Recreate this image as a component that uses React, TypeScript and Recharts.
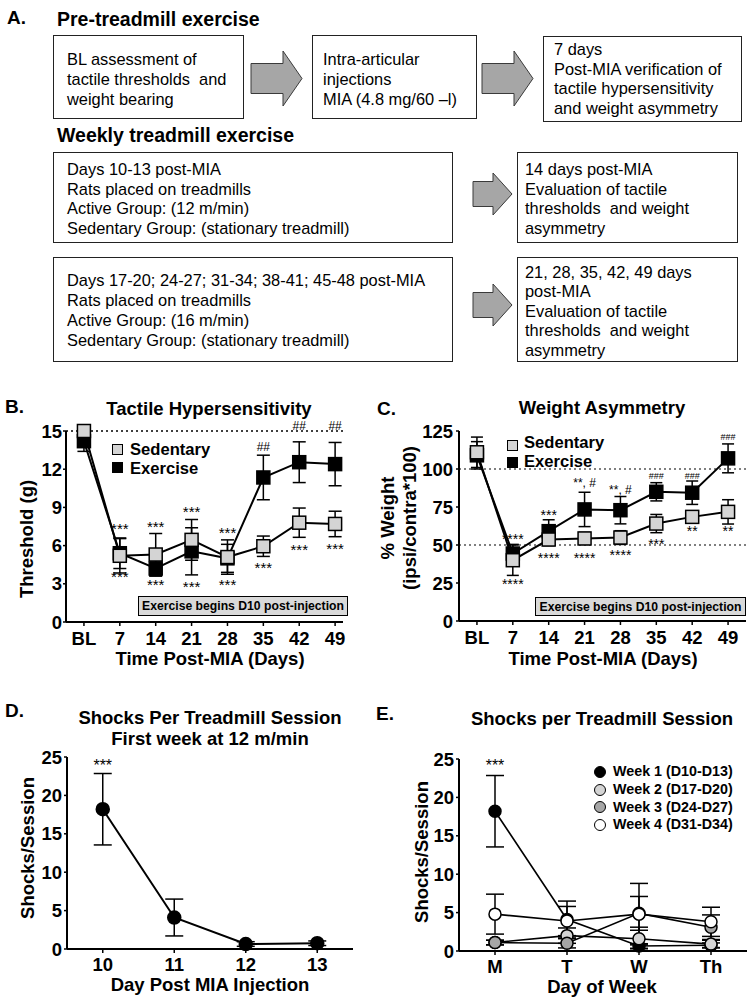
import React from 'react';
import { ComposedChart, Line, XAxis, YAxis, ErrorBar, ReferenceLine, ReferenceDot } from 'recharts';

const FONT = '"Liberation Sans", Arial, Helvetica, sans-serif';

// ---------------- data ----------------
const timeLabels = ['BL', '7', '14', '21', '28', '35', '42', '49'];
const sedThreshold = [15.0, 5.2, 5.3, 6.45, 5.1, 5.95, 7.8, 7.7];
const sedThresholdErr = [0, 1.35, 1.65, 1.6, 1.35, 0.8, 1.15, 1.0];
const exThreshold = [14.2, 5.4, 4.2, 5.55, 5.0, 11.35, 12.55, 12.4];
const exThresholdErr = [0.8, 1.2, 0.6, 1.85, 1.1, 1.75, 1.6, 1.7];
const thresholdTicks = [0, 3, 6, 9, 12, 15];

const sedWeight = [111, 40, 53.6, 54.3, 54.9, 64.1, 68.5, 71.8];
const sedWeightErr = [10, 10, 4, 4, 4.5, 6, 3, 8];
const exWeight = [109, 44.4, 59.1, 73.4, 72.9, 85, 84.4, 107];
const exWeightErr = [9, 6, 7.5, 11.3, 9, 6, 7.7, 9.5];
const weightTicks = [0, 25, 50, 75, 100, 125];

const sessionDays = [10, 11, 12, 13];
const weekDays = ['M', 'T', 'W', 'Th'];
const week1Shocks = [18.2, 4.1, 0.65, 0.75];
const week1Err = [4.65, 2.4, 0.3, 0.3];
const week2Shocks = [1.1, 2.0, 1.6, 0.9];
const week2Err = [0.3, 1.0, 1.5, 0.5];
const week3Shocks = [1.1, 1.0, 4.9, 3.1];
const week3Err = [0.3, 0.6, 2.2, 1.6];
const week4Shocks = [4.8, 3.9, 4.8, 3.8];
const week4Err = [2.6, 1.9, 4.0, 1.9];
const shockTicks = [0, 5, 10, 15, 20, 25];

const weekNames = ['Week 1 (D10-D13)', 'Week 2 (D17-D20)', 'Week 3 (D24-D27)', 'Week 4 (D31-D34)'];

const sigThreshold = [
  { x: 1, y: 7.6, t: '***' }, { x: 1, y: 3.85, t: '***' },
  { x: 2, y: 7.75, t: '***' }, { x: 2, y: 3.2, t: '***' },
  { x: 3, y: 8.95, t: '***' }, { x: 3, y: 3.05, t: '***' },
  { x: 4, y: 7.25, t: '***' }, { x: 4, y: 3.2, t: '***' },
  { x: 5, y: 13.8, t: '##' }, { x: 5, y: 4.5, t: '***' },
  { x: 6, y: 15.45, t: '##' }, { x: 6, y: 5.95, t: '***' },
  { x: 7, y: 15.45, t: '##' }, { x: 7, y: 6.05, t: '***' },
];
const sigWeight = [
  { x: 1, y: 55.8, t: '****' }, { x: 1, y: 26.4, t: '****' },
  { x: 2, y: 71.8, t: '***' }, { x: 2, y: 43.3, t: '****' },
  { x: 3, y: 91.6, t: '**, #' }, { x: 3, y: 43.3, t: '****' },
  { x: 4, y: 87.2, t: '**, #' }, { x: 4, y: 45.5, t: '****' },
  { x: 5, y: 95.3, t: '###' }, { x: 5, y: 52.7, t: '***' },
  { x: 6, y: 95.3, t: '###' }, { x: 6, y: 60.9, t: '**' },
  { x: 7, y: 121.3, t: '###' }, { x: 7, y: 60.9, t: '**' },
];
const sigSessionDay = [{ x: 10, y: 24.4, t: '***' }];
const sigWeekDay = [{ x: 0, y: 24.6, t: '***' }];

// ---------------- styles ----------------
const tickStyle = { fontSize: 18.5, fontWeight: 700, fill: '#000', fontFamily: FONT };
const axisLine = { stroke: '#000', strokeWidth: 2 };
const tickLine = { stroke: '#000', strokeWidth: 1.5 };
const SED_FILL = '#d4d4d4';
const BOX_FONT = 16.4;
const HEAD_FONT = 19.5;
const LEG_FONT = 16.6;
const LH = 0.8;

const squareDot = (fill: string) => (p: any) => {
  if (p.cx == null || p.cy == null) return <g key={`n${p.index}`} />;
  return (
    <rect key={`s${p.index}`} x={p.cx - 6.5} y={p.cy - 6.5} width={13} height={13}
      fill={fill} stroke="#000" strokeWidth={1.5} />
  );
};
const circleDot = (fill: string, r: number) => (p: any) => {
  if (p.cx == null || p.cy == null) return <g key={`n${p.index}`} />;
  return <circle key={`c${p.index}`} cx={p.cx} cy={p.cy} r={r} fill={fill} stroke="#000" strokeWidth={1.5} />;
};

const sigShape = (t: string, size: number) => (p: any) => {
  const stars = /^\*+$/.test(t);
  const hashes = /^#+$/.test(t);
  const dy = stars ? '0.57em' : hashes ? '0.36em' : '0.45em';
  return (
    <text x={p.cx} y={p.cy} dy={dy} textAnchor="middle" fontSize={size} fontFamily={FONT}
      style={{ fill: '#000' }}>{t}</text>
  );
};

// ---------------- text helpers ----------------
function Txt({ x, y, size, bold, anchor = 'start', children }: any) {
  const tx = anchor === 'middle' ? '-50%' : anchor === 'end' ? '-100%' : '0';
  const top = y - ((LH - 1.117) / 2 + 0.905) * size;
  return (
    <div style={{
      position: 'absolute', left: x, top, fontSize: size, lineHeight: `${LH * size}px`, height: LH * size,
      fontWeight: bold ? 700 : 400, whiteSpace: 'pre', transform: `translateX(${tx})`, fontFamily: FONT, color: '#000',
    }}>{children}</div>
  );
}
function VTxt({ cx, cy, size, children }: any) {
  return (
    <div style={{
      position: 'absolute', left: cx, top: cy, fontSize: size, lineHeight: `${size}px`, fontWeight: 700,
      whiteSpace: 'pre', transform: 'translate(-50%, -50%) rotate(-90deg)', fontFamily: FONT, color: '#000',
    }}>{children}</div>
  );
}
function Box({ x, y, w, h }: any) {
  return <div style={{ position: 'absolute', left: x, top: y, width: w, height: h, border: '1.3px solid #222', boxSizing: 'border-box' }} />;
}
function Arrow({ x, cy, len, bodyH, headH, headLen }: any) {
  const b0 = headH / 2 - bodyH / 2;
  const b1 = headH / 2 + bodyH / 2;
  const hx = len - headLen;
  const pts = [[0, b0], [hx, b0], [hx, 0], [len, headH / 2], [hx, headH], [hx, b1], [0, b1]]
    .map(([a, b]) => `${a + 1},${b + 1}`).join(' ');
  return (
    <svg style={{ position: 'absolute', left: x - 1, top: cy - headH / 2 - 1 }} width={len + 2} height={headH + 2}>
      <polygon points={pts} fill="#a6a6a6" stroke="#3a3a3a" strokeWidth={1} />
    </svg>
  );
}
function Lines({ x, bases, lines }: any) {
  return <>{lines.map((l: string, k: number) => <Txt key={k} x={x} y={bases[k]} size={BOX_FONT}>{l}</Txt>)}</>;
}
function AnnotBox({ x, y, w, h }: any) {
  return (
    <div style={{
      position: 'absolute', left: x, top: y, width: w, height: h, boxSizing: 'border-box', background: '#d9d9d9',
      border: '1.5px solid #000', fontSize: 12.2, fontWeight: 700, fontFamily: FONT, display: 'flex',
      alignItems: 'center', justifyContent: 'center', whiteSpace: 'nowrap',
    }}>Exercise begins D10 post-injection</div>
  );
}

// ---------------- panel A ----------------
function PanelA() {
  return (
    <>
      <Txt x={7} y={24} size={19} bold>A.</Txt>
      <Txt x={57} y={27} size={HEAD_FONT} bold>Pre-treadmill exercise</Txt>
      <Box x={53} y={35} w={191} h={84} />
      <Lines x={67} bases={[65, 85, 105]} lines={['BL assessment of', 'tactile thresholds  and', 'weight bearing']} />
      <Arrow x={251} cy={78} len={51} bodyH={30} headH={55} headLen={19} />
      <Box x={312} y={35} w={165} h={84} />
      <Lines x={323} bases={[65, 85, 105]} lines={['Intra-articular', 'injections', 'MIA (4.8 mg/60 \u2013l)']} />
      <Arrow x={482} cy={78} len={51} bodyH={30} headH={55} headLen={19} />
      <Box x={543} y={36} w={199} h={86} />
      <Lines x={554} bases={[55, 75, 94.5, 114]} lines={['7 days', 'Post-MIA verification of', 'tactile hypersensitivity', 'and weight asymmetry']} />

      <Txt x={57} y={143} size={HEAD_FONT} bold>Weekly treadmill exercise</Txt>
      <Box x={53} y={152} w={400} h={91} />
      <Lines x={67} bases={[175.5, 195, 214.5, 234]} lines={['Days 10-13 post-MIA', 'Rats placed on treadmills', 'Active Group: (12 m/min)', 'Sedentary Group: (stationary treadmill)']} />
      <Arrow x={473} cy={194} len={39} bodyH={25} headH={42} headLen={19} />
      <Box x={517} y={152} w={221} h={91} />
      <Lines x={525} bases={[175.5, 195, 214.5, 234]} lines={['14 days post-MIA', 'Evaluation of tactile', 'thresholds  and weight', 'asymmetry']} />

      <Box x={53} y={257} w={400} h={105} />
      <Lines x={67} bases={[286, 306, 326, 346]} lines={['Days 17-20; 24-27; 31-34; 38-41; 45-48 post-MIA', 'Rats placed on treadmills', 'Active Group: (16 m/min)', 'Sedentary Group: (stationary treadmill)']} />
      <Arrow x={473} cy={305} len={39} bodyH={25} headH={42} headLen={19} />
      <Box x={517} y={257} w={221} h={105} />
      <Lines x={525} bases={[278, 297.5, 317, 336.5, 356]} lines={['21, 28, 35, 42, 49 days', 'post-MIA', 'Evaluation of tactile', 'thresholds  and weight', 'asymmetry']} />
    </>
  );
}

// ---------------- panel B ----------------
function ThresholdChart() {
  const data = timeLabels.map((_, i) => ({ i, sed: sedThreshold[i], sedErr: sedThresholdErr[i], ex: exThreshold[i], exErr: exThresholdErr[i] }));
  return (
    <div style={{ position: 'absolute', left: 0, top: 380 }}>
      <ComposedChart width={377} height={300} data={data} margin={{ top: 51, right: 34, bottom: 28, left: 26 }}>
        <XAxis type="number" dataKey="i" domain={[-0.5, 7.22]} ticks={timeLabels.map((_, i) => i)} interval={0}
          tickFormatter={(v: number) => timeLabels[v]} height={30} tick={tickStyle} axisLine={axisLine} tickLine={tickLine}
          tickSize={4} tickMargin={6} />
        <YAxis type="number" domain={[0, 15]} ticks={thresholdTicks} interval={0} width={40} tick={tickStyle}
          axisLine={axisLine} tickLine={tickLine} tickSize={3} tickMargin={1} />
        <ReferenceLine y={15} stroke="#000" strokeWidth={1.3} strokeDasharray="2 3" />
        <Line type="linear" dataKey="ex" stroke="#000" strokeWidth={2} dot={squareDot('#000')} activeDot={false} isAnimationActive={false}>
          <ErrorBar dataKey="exErr" direction="y" width={6.5} stroke="#000" strokeWidth={1.5} />
        </Line>
        <Line type="linear" dataKey="sed" stroke="#000" strokeWidth={2} dot={squareDot(SED_FILL)} activeDot={false} isAnimationActive={false}>
          <ErrorBar dataKey="sedErr" direction="y" width={6.5} stroke="#000" strokeWidth={1.5} />
        </Line>
        {sigThreshold.map((a, k) => (
          <ReferenceDot key={k} x={a.x} y={a.y} r={0} ifOverflow="visible" shape={sigShape(a.t, a.t.includes('#') ? 12 : 15)} />
        ))}
      </ComposedChart>
    </div>
  );
}

// ---------------- panel C ----------------
function WeightChart() {
  const data = timeLabels.map((_, i) => ({ i, sed: sedWeight[i], sedErr: sedWeightErr[i], ex: exWeight[i], exErr: exWeightErr[i] }));
  const sizeFor = (t: string) => (/^#+$/.test(t) ? 9 : t.includes('#') ? 12 : 14);
  return (
    <div style={{ position: 'absolute', left: 377, top: 380 }}>
      <ComposedChart width={377} height={300} data={data} margin={{ top: 51, right: 8, bottom: 29, left: 42 }}>
        <XAxis type="number" dataKey="i" domain={[-0.5, 7.5]} ticks={timeLabels.map((_, i) => i)} interval={0}
          tickFormatter={(v: number) => timeLabels[v]} height={30} tick={tickStyle} axisLine={axisLine} tickLine={tickLine}
          tickSize={4} tickMargin={6} />
        <YAxis type="number" domain={[0, 125]} ticks={weightTicks} interval={0} width={40} tick={tickStyle}
          axisLine={axisLine} tickLine={tickLine} tickSize={3} tickMargin={3} />
        <ReferenceLine y={100} stroke="#000" strokeWidth={1.2} strokeDasharray="2 3" />
        <ReferenceLine y={50} stroke="#000" strokeWidth={1.2} strokeDasharray="2 3" />
        <Line type="linear" dataKey="ex" stroke="#000" strokeWidth={2} dot={squareDot('#000')} activeDot={false} isAnimationActive={false}>
          <ErrorBar dataKey="exErr" direction="y" width={6} stroke="#000" strokeWidth={1.5} />
        </Line>
        <Line type="linear" dataKey="sed" stroke="#000" strokeWidth={2} dot={squareDot(SED_FILL)} activeDot={false} isAnimationActive={false}>
          <ErrorBar dataKey="sedErr" direction="y" width={6} stroke="#000" strokeWidth={1.5} />
        </Line>
        {sigWeight.map((a, k) => (
          <ReferenceDot key={k} x={a.x} y={a.y} r={0} ifOverflow="visible" shape={sigShape(a.t, sizeFor(a.t))} />
        ))}
      </ComposedChart>
    </div>
  );
}

// ---------------- panel D ----------------
function ShockDayChart() {
  const data = sessionDays.map((d, i) => ({ day: d, w1: week1Shocks[i], w1Err: week1Err[i] }));
  return (
    <div style={{ position: 'absolute', left: 0, top: 680 }}>
      <ComposedChart width={377} height={324} data={data} margin={{ top: 77, right: 24, bottom: 25, left: 27 }}>
        <XAxis type="number" dataKey="day" domain={[9.5, 13.5]} ticks={sessionDays} interval={0} height={30}
          tick={tickStyle} axisLine={axisLine} tickLine={tickLine} tickSize={4} tickMargin={5} />
        <YAxis type="number" domain={[0, 25]} ticks={shockTicks} interval={0} width={40} tick={tickStyle}
          axisLine={axisLine} tickLine={tickLine} tickSize={3} tickMargin={2} />
        <Line type="linear" dataKey="w1" stroke="#000" strokeWidth={2} dot={circleDot('#000', 6.5)} activeDot={false} isAnimationActive={false}>
          <ErrorBar dataKey="w1Err" direction="y" width={9} stroke="#000" strokeWidth={1.5} />
        </Line>
        {sigSessionDay.map((a, k) => (
          <ReferenceDot key={k} x={a.x} y={a.y} r={0} ifOverflow="visible" shape={sigShape(a.t, 16)} />
        ))}
      </ComposedChart>
    </div>
  );
}

// ---------------- panel E ----------------
const weekFills = ['#000', '#d4d4d4', '#a6a6a6', '#fff'];
function ShockWeekChart() {
  const data = weekDays.map((_, i) => ({
    i,
    w1: week1Shocks[i], w1Err: week1Err[i],
    w2: week2Shocks[i], w2Err: week2Err[i],
    w3: week3Shocks[i], w3Err: week3Err[i],
    w4: week4Shocks[i], w4Err: week4Err[i],
  }));
  return (
    <div style={{ position: 'absolute', left: 377, top: 680 }}>
      <ComposedChart width={377} height={324} data={data} margin={{ top: 79, right: 7, bottom: 23, left: 42 }}>
        <XAxis type="number" dataKey="i" domain={[-0.5, 3.5]} ticks={weekDays.map((_, i) => i)} interval={0}
          tickFormatter={(v: number) => weekDays[v]} height={30} tick={tickStyle} axisLine={axisLine} tickLine={tickLine}
          tickSize={4} tickMargin={5} />
        <YAxis type="number" domain={[0, 25]} ticks={shockTicks} interval={0} width={40} tick={tickStyle}
          axisLine={axisLine} tickLine={tickLine} tickSize={3} tickMargin={2} />
        {['w1', 'w2', 'w3', 'w4'].map((k, n) => (
          <Line key={k} type="linear" dataKey={k} stroke="#000" strokeWidth={1.6} dot={circleDot(weekFills[n], 6)}
            activeDot={false} isAnimationActive={false}>
            <ErrorBar dataKey={`${k}Err`} direction="y" width={9} stroke="#000" strokeWidth={1.5} />
          </Line>
        ))}
        {sigWeekDay.map((a, k) => (
          <ReferenceDot key={k} x={a.x} y={a.y} r={0} ifOverflow="visible" shape={sigShape(a.t, 16)} />
        ))}
      </ComposedChart>
    </div>
  );
}

// ---------------- legends ----------------
function SquareLegend({ x, tx, rows }: any) {
  return (
    <>
      {rows.map((r: any, k: number) => (
        <React.Fragment key={k}>
          <div style={{ position: 'absolute', left: x - 5.5, top: r.cy - 5.5, width: 11, height: 11, boxSizing: 'border-box', background: r.fill, border: '1.3px solid #000' }} />
          <Txt x={tx} y={r.base} size={LEG_FONT} bold>{r.label}</Txt>
        </React.Fragment>
      ))}
    </>
  );
}

export default function App() {
  return (
    <div style={{ position: 'absolute', left: 0, top: 0, width: 754, height: 1004, background: '#fff', overflow: 'hidden', fontFamily: FONT }}>
      <PanelA />
      <ThresholdChart />
      <WeightChart />
      <ShockDayChart />
      <ShockWeekChart />

      {/* Panel B texts */}
      <Txt x={5} y={413} size={19} bold>B.</Txt>
      <Txt x={209} y={416} size={18.5} bold anchor="middle">Tactile Hypersensitivity</Txt>
      <VTxt cx={27} cy={539} size={18.5}>Threshold (g)</VTxt>
      <Txt x={210} y={666} size={18.5} bold anchor="middle">Time Post-MIA (Days)</Txt>
      <SquareLegend x={117.5} tx={130} rows={[
        { cy: 449.5, base: 455.5, fill: SED_FILL, label: 'Sedentary' },
        { cy: 467.5, base: 474.5, fill: '#000', label: 'Exercise' },
      ]} />
      <AnnotBox x={138} y={596} w={210} h={20} />

      {/* Panel C texts */}
      <Txt x={377} y={415} size={19} bold>C.</Txt>
      <Txt x={602} y={415} size={18.5} bold anchor="middle">Weight Asymmetry</Txt>
      <VTxt cx={388} cy={518} size={18.5}>% Weight</VTxt>
      <VTxt cx={410} cy={518} size={18.5}>(ipsi/contra*100)</VTxt>
      <Txt x={603} y={666} size={18.5} bold anchor="middle">Time Post-MIA (Days)</Txt>
      <SquareLegend x={512} tx={524} rows={[
        { cy: 445, base: 448.5, fill: SED_FILL, label: 'Sedentary' },
        { cy: 462.5, base: 467.5, fill: '#000', label: 'Exercise' },
      ]} />
      <AnnotBox x={535} y={597} w={211} h={19} />

      {/* Panel D texts */}
      <Txt x={5} y={717} size={19} bold>D.</Txt>
      <Txt x={210} y={725} size={18.5} bold anchor="middle">Shocks Per Treadmill Session</Txt>
      <Txt x={210} y={746} size={18.5} bold anchor="middle">First week at 12 m/min</Txt>
      <VTxt cx={28} cy={848} size={18.5}>Shocks/Session</VTxt>
      <Txt x={210} y={992} size={18.5} bold anchor="middle">Day Post MIA Injection</Txt>

      {/* Panel E texts */}
      <Txt x={376} y={720} size={19} bold>E.</Txt>
      <Txt x={602} y={726} size={18.5} bold anchor="middle">Shocks per Treadmill Session</Txt>
      <VTxt cx={422} cy={852} size={18.5}>Shocks/Session</VTxt>
      <Txt x={602} y={994} size={18.5} bold anchor="middle">Day of Week</Txt>
      {weekNames.map((nm, k) => {
        const cy = 772 + k * 17.7;
        return (
          <React.Fragment key={nm}>
            <div style={{ position: 'absolute', left: 594, top: cy - 6, width: 12, height: 12, boxSizing: 'border-box', borderRadius: '50%', background: weekFills[k], border: '1.5px solid #000' }} />
            <Txt x={613} y={cy + 5} size={14.3} bold>{nm}</Txt>
          </React.Fragment>
        );
      })}
    </div>
  );
}
